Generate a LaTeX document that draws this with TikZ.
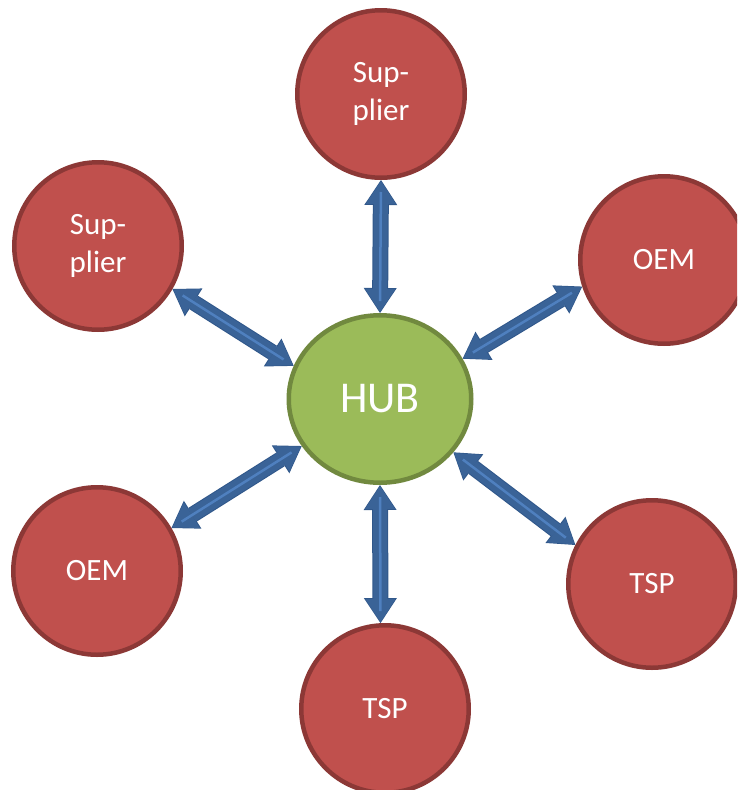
\documentclass[tikz,border=0pt]{standalone}
\usepackage{fontspec}
\setmainfont{Carlito}
\usepackage{xcolor}
\usetikzlibrary{arrows.meta,shapes.geometric}

\definecolor{hubfill}{HTML}{9BBB59}
\definecolor{hubline}{HTML}{71893F}
\definecolor{partfill}{HTML}{C0504D}
\definecolor{partline}{HTML}{8C3836}
\definecolor{arrowbody}{HTML}{3A6397}
\definecolor{arrowline}{HTML}{30578A}
\definecolor{arrowlight}{HTML}{4F80BF}

\tikzset{
	partner/.style={circle, fill=partfill, draw=partline, line width=4.5pt,
		minimum size=167.5pt, inner sep=0pt, text=white, align=center,
		font=\fontsize{31}{38.5}\selectfont},
	hubnode/.style={ellipse, fill=hubfill, draw=hubline, line width=4.5pt,
		minimum width=182.5pt, minimum height=167.5pt, inner sep=0pt, text=white,
		font=\fontsize{44}{50}\selectfont},
	link/.style={line width=14pt, draw=arrowbody, shorten <=1pt, shorten >=1pt,
		{Triangle[width=30pt,length=23pt,line width=0pt]}-{Triangle[width=30pt,length=23pt,line width=0pt]},
		preaction={draw=arrowline, line width=16pt, shorten <=0pt, shorten >=0pt,
			{Triangle[width=33pt,length=25pt,line width=0pt]}-{Triangle[width=33pt,length=25pt,line width=0pt]}},
		postaction={draw=arrowlight, line width=2.5pt, arrows=-, shorten <=12pt, shorten >=12pt}}
}

\begin{document}
\begin{tikzpicture}[x=1pt, y=-1pt]
		
		\useasboundingbox (0,0) rectangle (737,790);
		\clip (0,0) rectangle (737,790);
		
		\node[hubnode] (hub) at (380,399) {HUB};
		
		\node[partner] (supA) at (381,94) {Sup-\\plier};
		
		\node[partner] (supB) at (98,246) {Sup-\\plier};
		
		\node[partner] (oemA) at (664,260) {OEM};
		
		\node[partner] (oemB) at (97,571) {OEM};
		
		\node[partner] (tspA) at (652,584) {TSP};
		
		\node[partner] (tspB) at (385,709) {TSP};
		
		\draw[link] (supA.270) -- (hub.90);
		\draw[link] (supB.330) -- (hub.159);
		\draw[link] (oemA.198) -- (hub.26);
		\draw[link] (oemB.30) -- (hub.211);
		\draw[link] (tspA.153) -- (hub.324);
		\draw[link] (tspB.93) -- (hub.270);
		
	\end{tikzpicture}
\end{document}
